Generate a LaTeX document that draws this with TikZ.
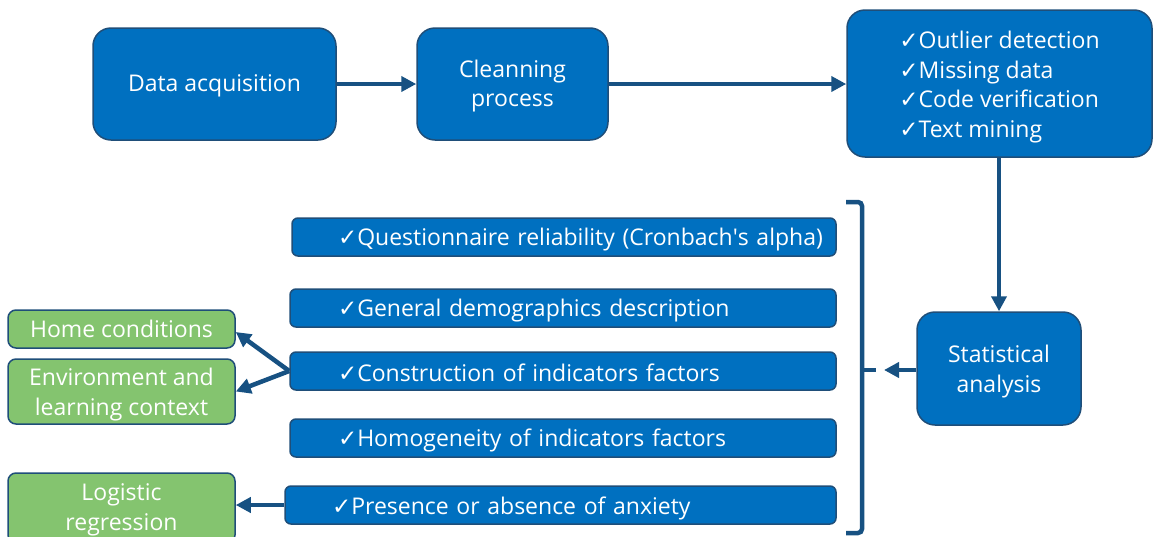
\documentclass[tikz,border=0pt]{standalone}
\usepackage{fontspec}
\setmainfont{Open Sans}
\newfontfamily\symf{DejaVu Sans}
\usetikzlibrary{arrows.meta}
\definecolor{boxblue}{HTML}{0070C0}
\definecolor{edgecol}{HTML}{1F4E79}
\definecolor{arrcol}{HTML}{175182}
\definecolor{boxgreen}{HTML}{84C46F}
\newcommand{\ck}{{\symf\char"2713}}
\newcommand{\dn}[2]{\raisebox{-#1}[\height][\depth]{#2}}
\newcommand{\ctab}[1]{\begin{tabular}{@{}c@{}}#1\end{tabular}}
\newcommand{\ltab}[1]{\begin{tabular}{@{}l@{}}#1\end{tabular}}
\begin{document}
\begin{tikzpicture}[x=1pt,y=-1pt,
  bluebox/.style={draw=edgecol, fill=boxblue, line width=1.5pt, rounded corners=18pt,
    text=white, font=\fontsize{23}{29.7}\selectfont, align=center, inner sep=0pt},
  listbox/.style={draw=edgecol, fill=boxblue, line width=1.5pt, rounded corners=6pt,
    text=white, font=\fontsize{23}{27}\selectfont, align=left, inner xsep=8pt, inner ysep=0pt,
    minimum height=38pt},
  greenbox/.style={draw=edgecol, fill=boxgreen, line width=1.5pt, rounded corners=8pt,
    text=white, font=\fontsize{23}{29.5}\selectfont, align=center, inner sep=0pt,
    minimum width=227pt},
  conn/.style={draw=arrcol, line width=4.5pt, -{Triangle[length=15pt,width=15pt]}},
  brk/.style={draw=arrcol, line width=4.5pt}
]
\useasboundingbox (0,0) rectangle (1153,536);
\clip (0,0) rectangle (1153,536);

% top row
\node[bluebox, minimum width=243pt, minimum height=112pt] (acq) at (214.5,84) {\dn{2pt}{Data acquisition}};
\node[bluebox, minimum width=191pt, minimum height=112pt] (clean) at (512.5,84) {\dn{2pt}{\ctab{Cleanning\\process}}};
\node[bluebox, minimum width=305pt, minimum height=147pt] (check) at (999.5,83.5)
  {\dn{3.5pt}{\ltab{\ck Outlier detection\\ \ck Missing data\\ \ck Code verification\\ \ck Text mining}}};
\node[bluebox, minimum width=164pt, minimum height=113pt] (stat) at (999,368.5) {\dn{3pt}{\ctab{Statistical\\analysis}}};

% list boxes
\node[listbox, minimum width=544pt, text width=528pt] (q) at (564,237) {\hspace*{38pt}\dn{3pt}{\ck Questionnaire reliability (Cronbach\textquotesingle s alpha)}};
\node[listbox, minimum width=546pt, text width=530pt] (g) at (563,308) {\hspace*{40pt}\dn{3pt}{\ck General demographics description}};
\node[listbox, minimum width=546pt, text width=530pt] (c) at (563,371) {\hspace*{40pt}\dn{1.5pt}{\ck Construction of indicators factors}};
\node[listbox, minimum width=546pt, text width=530pt] (h) at (563,438) {\hspace*{40pt}\dn{2pt}{\ck Homogeneity of indicators factors}};
\node[listbox, minimum width=551pt, text width=535pt] (p) at (560.5,505) {\hspace*{39pt}\dn{3pt}{\ck Presence or absence of anxiety}};

% green boxes
\node[greenbox, minimum height=38pt] (home) at (121.5,329) {Home conditions};
\node[greenbox, minimum height=65pt] (env) at (121.5,391.5) {\dn{3pt}{\ctab{Environment and\\learning context}}};
\node[greenbox, minimum height=70pt] (logit) at (121.5,508) {\dn{1.5pt}{\ctab{Logistic\\regression}}};

% bracket
\draw[brk, rounded corners=4pt] (846,202) -- (862,202) -- (862,533) -- (846,533);
\draw[brk] (862,370) -- (876,370);
\coordinate (brtip) at (884,370);

% connectors
\draw[conn] (acq.east) -- (clean.west);
\draw[conn] (clean.east) -- (clean.east -| check.west);
\draw[conn] (check.south -| stat.north) -- (stat.north);
\draw[conn] (stat.west |- brtip) -- (brtip);
\draw[conn] (c.west) -- ([yshift=-3pt]home.east);
\draw[conn] (c.west) -- (env.east);
\draw[conn] (p.west) -- (p.west -| logit.east);
\end{tikzpicture}
\end{document}
